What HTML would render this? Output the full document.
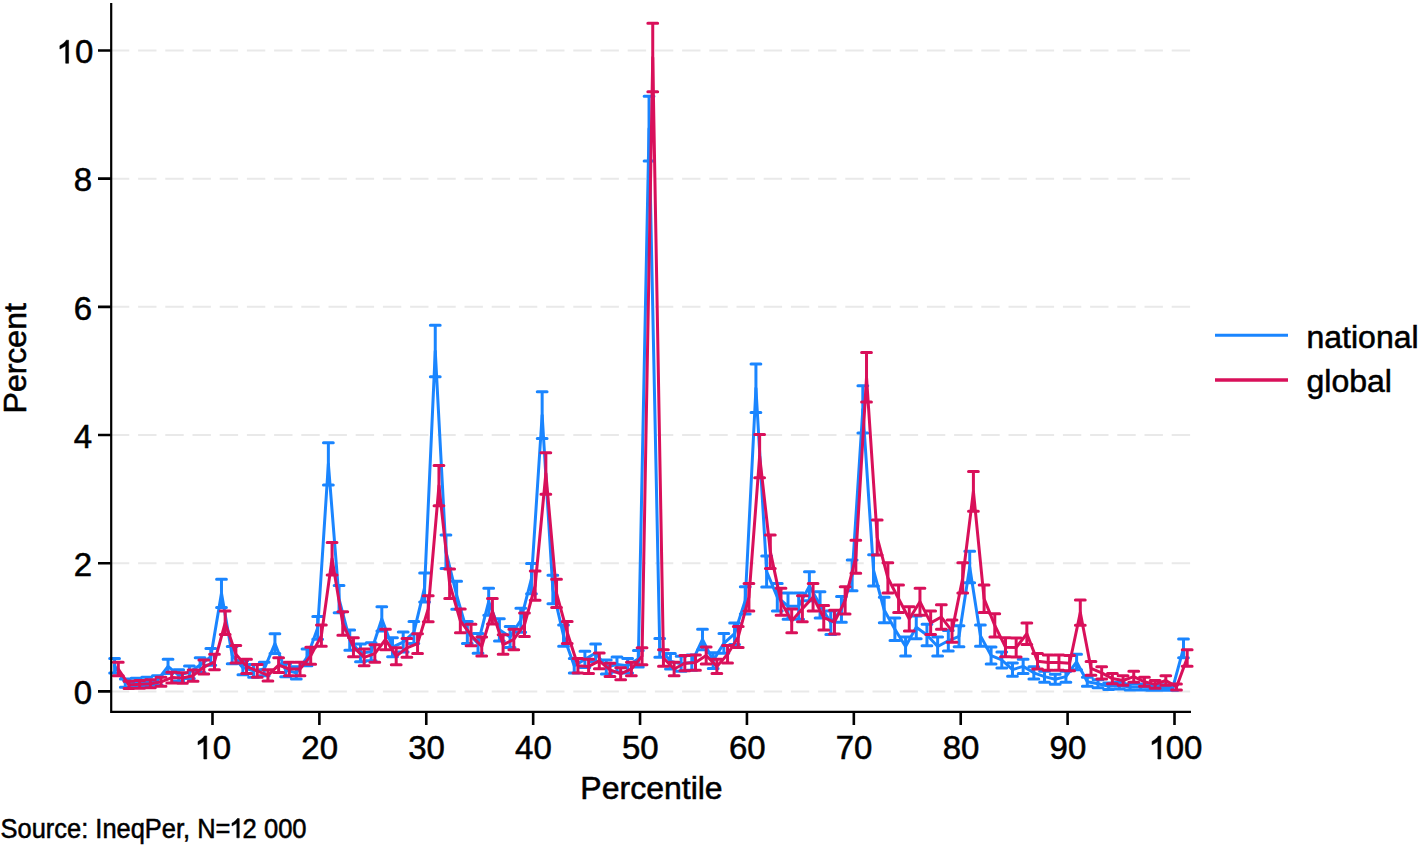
<!DOCTYPE html>
<html><head><meta charset="utf-8"><style>
html,body{margin:0;padding:0;background:#fff;}
svg{display:block;}
text{font-family:"Liberation Sans",sans-serif;fill:#000;stroke:#000;stroke-width:0.55px;}
</style></head><body>
<svg width="1421" height="846" viewBox="0 0 1421 846">
<rect width="1421" height="846" fill="#fff"/>
<line x1="110.9" y1="691.40" x2="1190.5" y2="691.40" stroke="#e9e9e9" stroke-width="2" stroke-dasharray="18.4 8.8"/>
<line x1="110.9" y1="563.21" x2="1190.5" y2="563.21" stroke="#e9e9e9" stroke-width="2" stroke-dasharray="18.4 8.8"/>
<line x1="110.9" y1="435.02" x2="1190.5" y2="435.02" stroke="#e9e9e9" stroke-width="2" stroke-dasharray="18.4 8.8"/>
<line x1="110.9" y1="306.83" x2="1190.5" y2="306.83" stroke="#e9e9e9" stroke-width="2" stroke-dasharray="18.4 8.8"/>
<line x1="110.9" y1="178.64" x2="1190.5" y2="178.64" stroke="#e9e9e9" stroke-width="2" stroke-dasharray="18.4 8.8"/>
<line x1="110.9" y1="50.45" x2="1190.5" y2="50.45" stroke="#e9e9e9" stroke-width="2" stroke-dasharray="18.4 8.8"/>

<polyline points="114.59,665.76 125.28,683.07 135.97,682.43 146.66,681.79 157.34,680.50 168.03,666.40 178.72,675.38 189.41,672.17 200.10,665.12 210.79,656.79 221.48,593.33 232.17,655.19 242.86,667.68 253.55,670.89 264.24,668.97 274.92,643.65 285.61,670.25 296.30,672.81 306.99,657.43 317.68,627.95 328.37,463.86 339.06,599.10 349.75,640.12 360.44,652.94 371.13,651.66 381.81,618.97 392.50,647.17 403.19,642.05 413.88,632.43 424.57,587.57 435.26,351.06 445.95,551.67 456.64,595.26 467.33,632.43 478.02,643.33 488.70,601.67 499.39,629.87 510.08,636.92 520.77,620.25 531.46,578.59 542.15,415.15 552.84,589.49 563.53,635.64 574.22,665.76 584.90,659.35 595.59,652.94 606.28,667.04 616.97,664.48 627.66,665.76 638.35,658.71 649.04,128.65 659.73,647.82 670.42,661.28 681.11,663.84 691.79,662.56 702.48,639.48 713.17,660.63 723.86,643.33 734.55,633.71 745.24,600.39 755.93,388.23 766.62,571.54 777.31,597.18 788.00,606.15 798.68,606.15 809.37,586.28 820.06,604.87 830.75,622.82 841.44,609.36 852.13,575.39 862.82,409.38 873.51,570.26 884.20,610.00 894.89,629.23 905.57,646.53 916.26,627.30 926.95,635.00 937.64,646.53 948.33,640.76 959.02,636.28 969.71,567.06 980.40,635.64 991.09,655.51 1001.78,659.99 1012.47,669.61 1023.15,666.40 1033.84,672.81 1044.53,676.66 1055.22,679.22 1065.91,676.66 1076.60,661.92 1087.29,681.79 1097.98,683.71 1108.67,686.27 1119.36,685.63 1130.04,686.91 1140.73,686.91 1151.42,687.55 1162.11,687.55 1172.80,687.55 1183.49,648.46" fill="none" stroke="#1a85ff" stroke-width="3.0" stroke-linejoin="round" stroke-linecap="round"/>
<path d="M114.59,658.52V673.00M109.69,658.52H119.49M109.69,673.00H119.49M125.28,678.94V687.20M120.38,678.94H130.18M120.38,687.20H130.18M135.97,678.14V686.71M131.07,678.14H140.87M131.07,686.71H140.87M146.66,677.35V686.22M141.76,677.35H151.56M141.76,686.22H151.56M157.34,675.78V685.23M152.44,675.78H162.25M152.44,685.23H162.25M168.03,659.26V673.55M163.13,659.26H172.93M163.13,673.55H172.93M178.72,669.65V681.10M173.82,669.65H183.62M173.82,681.10H183.62M189.41,665.90V678.44M184.51,665.90H194.31M184.51,678.44H194.31M200.10,657.79V672.45M195.20,657.79H205.00M195.20,672.45H205.00M210.79,648.38V665.19M205.89,648.38H215.69M205.89,665.19H215.69M221.48,579.26V607.41M216.58,579.26H226.38M216.58,607.41H226.38M232.17,646.59V663.78M227.27,646.59H237.07M227.27,663.78H237.07M242.86,660.72V674.65M237.96,660.72H247.76M237.96,674.65H247.76M253.55,664.41V677.37M248.65,664.41H258.45M248.65,677.37H258.45M264.24,662.19V675.74M259.34,662.19H269.13M259.34,675.74H269.13M274.92,633.79V653.51M270.02,633.79H279.82M270.02,653.51H279.82M285.61,663.67V676.83M280.71,663.67H290.51M280.71,676.83H290.51M296.30,666.65V678.98M291.40,666.65H301.20M291.40,678.98H301.20M306.99,649.10V665.76M302.09,649.10H311.89M302.09,665.76H311.89M317.68,616.59V639.30M312.78,616.59H322.58M312.78,639.30H322.58M328.37,442.64V485.08M323.47,442.64H333.27M323.47,485.08H333.27M339.06,585.44V612.77M334.16,585.44H343.96M334.16,612.77H343.96M349.75,629.91V650.34M344.85,629.91H354.65M344.85,650.34H354.65M360.44,644.09V661.80M355.54,644.09H365.34M355.54,661.80H365.34M371.13,642.66V660.66M366.23,642.66H376.03M366.23,660.66H376.03M381.81,606.85V631.09M376.91,606.85H386.71M376.91,631.09H386.71M392.50,637.68V656.67M387.60,637.68H397.40M387.60,656.67H397.40M403.19,632.02V652.07M398.29,632.02H408.09M398.29,652.07H408.09M413.88,621.48V643.38M408.98,621.48H418.78M408.98,643.38H418.78M424.57,573.09V602.04M419.67,573.09H429.47M419.67,602.04H429.47M435.26,325.34V376.77M430.36,325.34H440.16M430.36,376.77H440.16M445.95,534.93V568.42M441.05,534.93H450.85M441.05,568.42H450.85M456.64,581.32V609.20M451.74,581.32H461.54M451.74,609.20H461.54M467.33,621.48V643.38M462.43,621.48H472.23M462.43,643.38H472.23M478.02,633.43V653.22M473.12,633.43H482.92M473.12,653.22H482.92M488.70,588.19V615.14M483.80,588.19H493.60M483.80,615.14H493.60M499.39,618.69V641.05M494.49,618.69H504.29M494.49,641.05H504.29M510.08,626.39V647.45M505.18,626.39H514.98M505.18,647.45H514.98M520.77,608.24V632.27M515.87,608.24H525.67M515.87,632.27H525.67M531.46,563.51V593.67M526.56,563.51H536.36M526.56,593.67H536.36M542.15,391.86V438.44M537.25,391.86H547.05M537.25,438.44H547.05M552.84,575.14V603.83M547.94,575.14H557.74M547.94,603.83H557.74M563.53,624.99V646.29M558.63,624.99H568.43M558.63,646.29H568.43M574.22,658.52V673.00M569.32,658.52H579.12M569.32,673.00H579.12M584.90,651.26V667.44M580.00,651.26H589.80M580.00,667.44H589.80M595.59,644.09V661.80M590.69,644.09H600.49M590.69,661.80H600.49M606.28,659.99V674.10M601.38,659.99H611.18M601.38,674.10H611.18M616.97,657.06V671.90M612.07,657.06H621.87M612.07,671.90H621.87M627.66,658.52V673.00M622.76,658.52H632.56M622.76,673.00H632.56M638.35,650.54V666.88M633.45,650.54H643.25M633.45,666.88H643.25M649.04,96.19V161.10M644.14,96.19H653.94M644.14,161.10H653.94M659.73,638.39V657.24M654.83,638.39H664.63M654.83,657.24H664.63M670.42,653.43V669.12M665.52,653.43H675.32M665.52,669.12H675.32M681.11,656.34V671.34M676.21,656.34H686.01M676.21,671.34H686.01M691.79,654.88V670.23M686.89,654.88H696.69M686.89,670.23H696.69M702.48,629.20V649.76M697.58,629.20H707.38M697.58,649.76H707.38M713.17,652.71V668.56M708.27,652.71H718.07M708.27,668.56H718.07M723.86,633.43V653.22M718.96,633.43H728.76M718.96,653.22H728.76M734.55,622.88V644.54M729.65,622.88H739.45M729.65,644.54H739.45M745.24,586.82V613.95M740.34,586.82H750.14M740.34,613.95H750.14M755.93,363.89V412.58M751.03,363.89H760.83M751.03,412.58H760.83M766.62,556.01V587.08M761.72,556.01H771.52M761.72,587.08H771.52M777.31,583.38V610.98M772.41,583.38H782.21M772.41,610.98H782.21M788.00,593.02V619.29M783.10,593.02H792.90M783.10,619.29H792.90M798.68,593.02V619.29M793.78,593.02H803.58M793.78,619.29H803.58M809.37,571.72V600.85M804.47,571.72H814.27M804.47,600.85H814.27M820.06,591.64V618.11M815.16,591.64H824.96M815.16,618.11H824.96M830.75,611.02V634.62M825.85,611.02H835.65M825.85,634.62H835.65M841.44,596.47V622.25M836.54,596.47H846.34M836.54,622.25H846.34M852.13,560.10V590.68M847.23,560.10H857.03M847.23,590.68H857.03M862.82,385.86V432.90M857.92,385.86H867.72M857.92,432.90H867.72M873.51,554.64V585.88M868.61,554.64H878.41M868.61,585.88H878.41M884.20,597.16V622.84M879.30,597.16H889.10M879.30,622.84H889.10M894.89,617.99V640.47M889.99,617.99H899.79M889.99,640.47H899.79M905.57,636.97V656.09M900.67,636.97H910.47M900.67,656.09H910.47M916.26,615.89V638.72M911.36,615.89H921.16M911.36,638.72H921.16M926.95,624.29V645.71M922.05,624.29H931.85M922.05,645.71H931.85M937.64,636.97V656.09M932.74,636.97H942.54M932.74,656.09H942.54M948.33,630.61V650.92M943.43,630.61H953.23M943.43,650.92H953.23M959.02,625.69V646.87M954.12,625.69H963.92M954.12,646.87H963.92M969.71,551.24V582.87M964.81,551.24H974.61M964.81,582.87H974.61M980.40,624.99V646.29M975.50,624.99H985.30M975.50,646.29H985.30M991.09,646.95V664.06M986.19,646.95H995.99M986.19,664.06H995.99M1001.78,651.99V668.00M996.88,651.99H1006.68M996.88,668.00H1006.68M1012.47,662.93V676.28M1007.57,662.93H1017.37M1007.57,676.28H1017.37M1023.15,659.26V673.55M1018.25,659.26H1028.05M1018.25,673.55H1028.05M1033.84,666.65V678.98M1028.94,666.65H1038.74M1028.94,678.98H1038.74M1044.53,671.16V682.15M1039.63,671.16H1049.43M1039.63,682.15H1049.43M1055.22,674.23V684.22M1050.32,674.23H1060.12M1050.32,684.22H1060.12M1065.91,671.16V682.15M1061.01,671.16H1070.81M1061.01,682.15H1070.81M1076.60,654.16V669.68M1071.70,654.16H1081.50M1071.70,669.68H1081.50M1087.29,677.35V686.22M1082.39,677.35H1092.19M1082.39,686.22H1092.19M1097.98,679.74V687.68M1093.08,679.74H1102.88M1093.08,687.68H1102.88M1108.67,683.03V689.51M1103.77,683.03H1113.57M1103.77,689.51H1113.57M1119.36,682.19V689.07M1114.45,682.19H1124.26M1114.45,689.07H1124.26M1130.04,683.88V689.95M1125.14,683.88H1134.94M1125.14,689.95H1134.94M1140.73,683.88V689.95M1135.83,683.88H1145.63M1135.83,689.95H1145.63M1151.42,684.75V690.36M1146.52,684.75H1156.32M1146.52,690.36H1156.32M1162.11,684.75V690.36M1157.21,684.75H1167.01M1157.21,690.36H1167.01M1172.80,684.75V690.36M1167.90,684.75H1177.70M1167.90,690.36H1177.70M1183.49,639.10V657.81M1178.59,639.10H1188.39M1178.59,657.81H1188.39" fill="none" stroke="#1a85ff" stroke-width="3.0" stroke-linecap="round"/>

<polyline points="118.29,668.97 128.98,684.99 139.67,684.35 150.36,683.71 161.04,681.79 171.73,677.62 182.42,677.94 193.11,675.70 203.80,667.04 214.49,661.92 225.18,622.82 235.87,654.22 246.56,666.40 257.25,670.89 267.94,675.38 278.62,665.12 289.31,668.97 300.00,668.97 310.69,655.83 321.38,635.64 332.07,558.72 342.76,623.46 353.45,647.17 364.14,657.43 374.83,653.58 385.51,639.48 396.20,656.15 406.89,647.82 417.58,643.65 428.27,608.72 438.96,485.66 449.65,583.72 460.34,620.90 471.03,635.00 481.72,646.53 492.40,611.28 503.09,644.61 513.78,639.48 524.47,624.74 535.16,585.64 545.85,473.48 556.54,593.33 567.23,632.43 577.92,665.76 588.61,666.40 599.29,660.95 609.98,669.93 620.67,673.77 631.36,668.97 642.05,656.15 652.74,57.50 663.43,658.07 674.12,668.97 684.81,663.20 695.50,662.56 706.18,655.51 716.87,666.40 727.56,654.22 738.25,636.92 748.94,597.18 759.63,456.17 770.32,551.67 781.01,601.67 791.70,620.90 802.38,608.72 813.07,597.18 823.76,617.69 834.45,622.18 845.14,600.39 855.83,556.80 866.52,377.33 877.21,537.57 887.90,577.95 898.59,598.78 909.27,618.97 919.96,601.67 930.65,622.82 941.34,617.05 952.03,631.15 962.72,577.95 973.41,491.42 984.10,598.78 994.79,625.38 1005.48,647.17 1016.17,647.49 1026.85,633.71 1037.54,661.28 1048.23,662.56 1058.92,662.56 1069.61,663.20 1080.30,612.56 1090.99,668.33 1101.68,672.81 1112.37,678.58 1123.06,680.50 1133.74,676.66 1144.43,681.79 1155.12,684.35 1165.81,680.50 1176.50,686.91 1187.19,658.07" fill="none" stroke="#d9105a" stroke-width="3.0" stroke-linejoin="round" stroke-linecap="round"/>
<path d="M118.29,662.19V675.74M113.39,662.19H123.19M113.39,675.74H123.19M128.98,681.37V688.62M124.08,681.37H133.88M124.08,688.62H133.88M139.67,680.55V688.15M134.77,680.55H144.57M134.77,688.15H144.57M150.36,679.74V687.68M145.46,679.74H155.26M145.46,687.68H155.26M161.04,677.35V686.22M156.14,677.35H165.94M156.14,686.22H165.94M171.73,672.31V682.93M166.83,672.31H176.63M166.83,682.93H176.63M182.42,672.69V683.19M177.52,672.69H187.32M177.52,683.19H187.32M193.11,670.03V681.37M188.21,670.03H198.01M188.21,681.37H198.01M203.80,659.99V674.10M198.90,659.99H208.70M198.90,674.10H208.70M214.49,654.16V669.68M209.59,654.16H219.39M209.59,669.68H219.39M225.18,611.02V634.62M220.28,611.02H230.08M220.28,634.62H230.08M235.87,645.52V662.93M230.97,645.52H240.77M230.97,662.93H240.77M246.56,659.26V673.55M241.66,659.26H251.46M241.66,673.55H251.46M257.25,664.41V677.37M252.35,664.41H262.15M252.35,677.37H262.15M267.94,669.65V681.10M263.04,669.65H272.83M263.04,681.10H272.83M278.62,657.79V672.45M273.72,657.79H283.52M273.72,672.45H283.52M289.31,662.19V675.74M284.41,662.19H294.21M284.41,675.74H294.21M300.00,662.19V675.74M295.10,662.19H304.90M295.10,675.74H304.90M310.69,647.31V664.35M305.79,647.31H315.59M305.79,664.35H315.59M321.38,624.99V646.29M316.48,624.99H326.28M316.48,646.29H326.28M332.07,542.40V575.05M327.17,542.40H336.97M327.17,575.05H336.97M342.76,611.71V635.20M337.86,611.71H347.66M337.86,635.20H347.66M353.45,637.68V656.67M348.55,637.68H358.35M348.55,656.67H358.35M364.14,649.10V665.76M359.24,649.10H369.04M359.24,665.76H369.04M374.83,644.80V662.37M369.93,644.80H379.73M369.93,662.37H379.73M385.51,629.20V649.76M380.61,629.20H390.41M380.61,649.76H390.41M396.20,647.67V664.63M391.30,647.67H401.10M391.30,664.63H401.10M406.89,638.39V657.24M401.99,638.39H411.79M401.99,657.24H411.79M417.58,633.79V653.51M412.68,633.79H422.48M412.68,653.51H422.48M428.27,595.78V621.66M423.37,595.78H433.17M423.37,621.66H433.17M438.96,465.44V505.87M434.06,465.44H443.86M434.06,505.87H443.86M449.65,568.98V598.46M444.75,568.98H454.55M444.75,598.46H454.55M460.34,608.93V632.86M455.44,608.93H465.24M455.44,632.86H465.24M471.03,624.29V645.71M466.13,624.29H475.93M466.13,645.71H475.93M481.72,636.97V656.09M476.82,636.97H486.62M476.82,656.09H486.62M492.40,598.54V624.02M487.50,598.54H497.30M487.50,624.02H497.30M503.09,634.85V654.37M498.19,634.85H507.99M498.19,654.37H507.99M513.78,629.20V649.76M508.88,629.20H518.68M508.88,649.76H518.68M524.47,613.11V636.38M519.57,613.11H529.37M519.57,636.38H529.37M535.16,571.03V600.25M530.26,571.03H540.06M530.26,600.25H540.06M545.85,452.69V494.26M540.95,452.69H550.75M540.95,494.26H550.75M556.54,579.26V607.41M551.64,579.26H561.44M551.64,607.41H561.44M567.23,621.48V643.38M562.33,621.48H572.13M562.33,643.38H572.13M577.92,658.52V673.00M573.02,658.52H582.82M573.02,673.00H582.82M588.61,659.26V673.55M583.71,659.26H593.50M583.71,673.55H593.50M599.29,653.07V668.84M594.39,653.07H604.19M594.39,668.84H604.19M609.98,663.30V676.55M605.08,663.30H614.88M605.08,676.55H614.88M620.67,667.77V679.78M615.77,667.77H625.57M615.77,679.78H625.57M631.36,662.19V675.74M626.46,662.19H636.26M626.46,675.74H636.26M642.05,647.67V664.63M637.15,647.67H646.95M637.15,664.63H646.95M652.74,23.27V91.74M647.84,23.27H657.64M647.84,91.74H657.64M663.43,649.82V666.32M658.53,649.82H668.33M658.53,666.32H668.33M674.12,662.19V675.74M669.22,662.19H679.02M669.22,675.74H679.02M684.81,655.61V670.79M679.91,655.61H689.71M679.91,670.79H689.71M695.50,654.88V670.23M690.60,654.88H700.39M690.60,670.23H700.39M706.18,646.95V664.06M701.28,646.95H711.08M701.28,664.06H711.08M716.87,659.26V673.55M711.97,659.26H721.77M711.97,673.55H721.77M727.56,645.52V662.93M722.66,645.52H732.46M722.66,662.93H732.46M738.25,626.39V647.45M733.35,626.39H743.15M733.35,647.45H743.15M748.94,583.38V610.98M744.04,583.38H753.84M744.04,610.98H753.84M759.63,434.61V477.73M754.73,434.61H764.53M754.73,477.73H764.53M770.32,534.93V568.42M765.42,534.93H775.22M765.42,568.42H775.22M781.01,588.19V615.14M776.11,588.19H785.91M776.11,615.14H785.91M791.70,608.93V632.86M786.80,608.93H796.60M786.80,632.86H796.60M802.38,595.78V621.66M797.49,595.78H807.28M797.49,621.66H807.28M813.07,583.38V610.98M808.17,583.38H817.97M808.17,610.98H817.97M823.76,605.46V629.92M818.86,605.46H828.66M818.86,629.92H828.66M834.45,610.32V634.03M829.55,610.32H839.35M829.55,634.03H839.35M845.14,586.82V613.95M840.24,586.82H850.04M840.24,613.95H850.04M855.83,540.36V573.24M850.93,540.36H860.73M850.93,573.24H860.73M866.52,352.58V402.09M861.62,352.58H871.42M861.62,402.09H871.42M877.21,520.02V555.12M872.31,520.02H882.11M872.31,555.12H882.11M887.90,562.83V593.07M883.00,562.83H892.80M883.00,593.07H892.80M898.59,585.10V612.47M893.69,585.10H903.49M893.69,612.47H903.49M909.27,606.85V631.09M904.38,606.85H914.17M904.38,631.09H914.17M919.96,588.19V615.14M915.06,588.19H924.86M915.06,615.14H924.86M930.65,611.02V634.62M925.75,611.02H935.55M925.75,634.62H935.55M941.34,604.77V629.33M936.44,604.77H946.24M936.44,629.33H946.24M952.03,620.08V642.22M947.13,620.08H956.93M947.13,642.22H956.93M962.72,562.83V593.07M957.82,562.83H967.62M957.82,593.07H967.62M973.41,471.49V511.36M968.51,471.49H978.31M968.51,511.36H978.31M984.10,585.10V612.47M979.20,585.10H989.00M979.20,612.47H989.00M994.79,613.80V636.96M989.89,613.80H999.69M989.89,636.96H999.69M1005.48,637.68V656.67M1000.58,637.68H1010.38M1000.58,656.67H1010.38M1016.17,638.04V656.95M1011.27,638.04H1021.07M1011.27,656.95H1021.07M1026.85,622.88V644.54M1021.95,622.88H1031.75M1021.95,644.54H1031.75M1037.54,653.43V669.12M1032.64,653.43H1042.44M1032.64,669.12H1042.44M1048.23,654.88V670.23M1043.33,654.88H1053.13M1043.33,670.23H1053.13M1058.92,654.88V670.23M1054.02,654.88H1063.82M1054.02,670.23H1063.82M1069.61,655.61V670.79M1064.71,655.61H1074.51M1064.71,670.79H1074.51M1080.30,599.92V625.20M1075.40,599.92H1085.20M1075.40,625.20H1085.20M1090.99,661.46V675.19M1086.09,661.46H1095.89M1086.09,675.19H1095.89M1101.68,666.65V678.98M1096.78,666.65H1106.58M1096.78,678.98H1106.58M1112.37,673.46V683.70M1107.47,673.46H1117.27M1107.47,683.70H1117.27M1123.06,675.78V685.23M1118.15,675.78H1127.96M1118.15,685.23H1127.96M1133.74,671.16V682.15M1128.84,671.16H1138.64M1128.84,682.15H1138.64M1144.43,677.35V686.22M1139.53,677.35H1149.33M1139.53,686.22H1149.33M1155.12,680.55V688.15M1150.22,680.55H1160.02M1150.22,688.15H1160.02M1165.81,675.78V685.23M1160.91,675.78H1170.71M1160.91,685.23H1170.71M1176.50,683.88V689.95M1171.60,683.88H1181.40M1171.60,689.95H1181.40M1187.19,649.82V666.32M1182.29,649.82H1192.09M1182.29,666.32H1192.09" fill="none" stroke="#d9105a" stroke-width="3.0" stroke-linecap="round"/>

<path d="M111.2,3V711.8H1191" fill="none" stroke="#000" stroke-width="2.2"/>
<path d="M98,691.40H111.2M98,563.21H111.2M98,435.02H111.2M98,306.83H111.2M98,178.64H111.2M98,50.45H111.2M212.49,711.8V725M319.38,711.8V725M426.27,711.8V725M533.16,711.8V725M640.05,711.8V725M746.94,711.8V725M853.83,711.8V725M960.72,711.8V725M1067.61,711.8V725M1174.50,711.8V725" fill="none" stroke="#000" stroke-width="2.6"/>
<g font-size="33">
<text x="92.0" y="704.20" text-anchor="end">0</text>
<text x="92.0" y="576.01" text-anchor="end">2</text>
<text x="92.0" y="447.82" text-anchor="end">4</text>
<text x="92.0" y="319.63" text-anchor="end">6</text>
<text x="92.0" y="191.44" text-anchor="end">8</text>
<text x="93.3" y="63.25" text-anchor="end">0</text>
<path d="M763,0H583V1100C500,1030 350,945 223,880V1090C400,1170 540,1300 620,1430H763Z" stroke="#000" stroke-width="34.13" transform="translate(56.30,63.25) scale(0.01611,-0.01611)"/>
<path d="M763,0H583V1100C500,1030 350,945 223,880V1090C400,1170 540,1300 620,1430H763Z" stroke="#000" stroke-width="34.13" transform="translate(194.44,759.00) scale(0.01611,-0.01611)"/>
<text x="212.79" y="759">0</text>
<text x="319.68" y="759" text-anchor="middle">20</text>
<text x="426.57" y="759" text-anchor="middle">30</text>
<text x="533.46" y="759" text-anchor="middle">40</text>
<text x="640.35" y="759" text-anchor="middle">50</text>
<text x="747.24" y="759" text-anchor="middle">60</text>
<text x="854.13" y="759" text-anchor="middle">70</text>
<text x="961.02" y="759" text-anchor="middle">80</text>
<text x="1067.91" y="759" text-anchor="middle">90</text>
<path d="M763,0H583V1100C500,1030 350,945 223,880V1090C400,1170 540,1300 620,1430H763Z" stroke="#000" stroke-width="34.13" transform="translate(1148.48,759.00) scale(0.01611,-0.01611)"/>
<text x="1165.63" y="759">00</text>

</g>
<text x="651.5" y="799" font-size="32" text-anchor="middle">Percentile</text>
<text transform="translate(26,358.3) rotate(-90)" font-size="32" text-anchor="middle">Percent</text>
<line x1="1215" y1="335.2" x2="1288" y2="335.2" stroke="#1a85ff" stroke-width="3"/>
<line x1="1215" y1="380" x2="1288" y2="380" stroke="#d9105a" stroke-width="3.5"/>
<text x="1306.5" y="348" font-size="32">national</text>
<text x="1306.5" y="391.6" font-size="32">global</text>
<g font-size="27.5">
<text x="0.6" y="837.8" textLength="229.8" lengthAdjust="spacingAndGlyphs">Source: IneqPer, N=</text>
<path d="M763,0H583V1100C500,1030 350,945 223,880V1090C400,1170 540,1300 620,1430H763Z" stroke="#000" stroke-width="40.96" transform="translate(229.00,837.80) scale(0.01343,-0.01343)"/>
<text x="242.6" y="837.8" textLength="64" lengthAdjust="spacingAndGlyphs">2 000</text>
</g>
</svg>
</body></html>
